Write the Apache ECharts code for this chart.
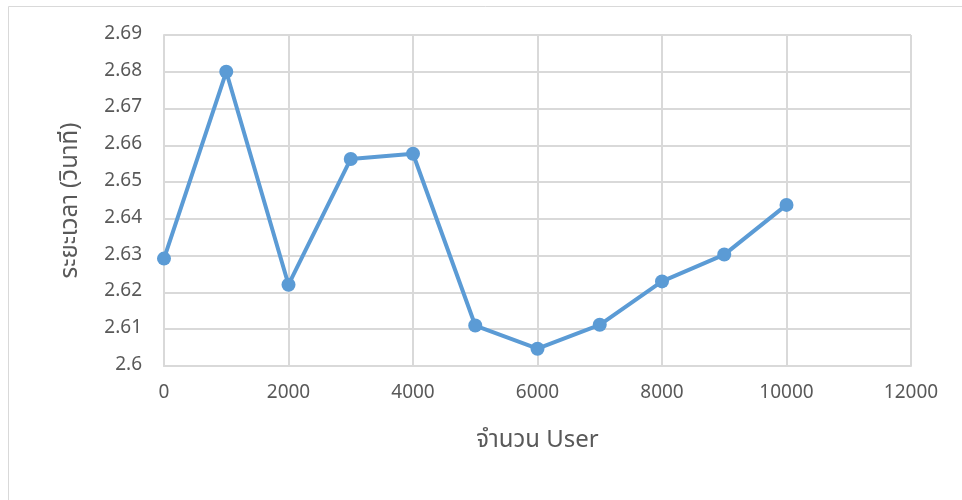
<!DOCTYPE html>
<html>
<head>
<meta charset="utf-8">
<script src="https://cdn.jsdelivr.net/npm/echarts@6/dist/echarts.min.js"></script>
<style>
  html, body { margin: 0; padding: 0; background: #fff; }
  #chart { width: 962px; height: 500px; }
</style>
</head>
<body>
<div id="chart"></div>
<script>
var users = [0, 1000, 2000, 3000, 4000, 5000, 6000, 7000, 8000, 9000, 10000];
var times = [2.6292, 2.6800, 2.6221, 2.6563, 2.6577, 2.6110, 2.6047, 2.6112, 2.6230, 2.6303, 2.6438];
var xTitle = 'จำนวน User';
var yTitle = 'ระยะเวลา (วินาที)';

var fontFam = '"Noto Sans Thai", "Open Sans", "Noto Sans", "DejaVu Sans", sans-serif';
var chart = echarts.init(document.getElementById('chart'));
var option = {
    backgroundColor: '#fff',
    animation: false,
    graphic: [{
        type: 'rect',
        shape: { x: 8.5, y: 6.5, width: 1000, height: 600 },
        style: { fill: 'none', stroke: '#d9d9d9', lineWidth: 1 },
        silent: true
    }],
    grid: { left: 164, right: 51, top: 35, bottom: 134 },
    xAxis: {
        type: 'value',
        min: 0,
        max: 12000,
        interval: 2000,
        name: xTitle,
        nameLocation: 'middle',
        nameGap: 64,
        nameTextStyle: { fontSize: 24, color: '#595959', fontFamily: fontFam },
        axisLine: { show: true, lineStyle: { color: '#d9d9d9', width: 2 } },
        axisTick: { show: false },
        axisLabel: {
            fontSize: 19, color: '#595959', margin: 19, fontFamily: fontFam,
            formatter: function (v) { return String(v); }
        },
        splitLine: { show: true, lineStyle: { color: '#d9d9d9', width: 2 } }
    },
    yAxis: {
        type: 'value',
        min: 2.6,
        max: 2.69,
        interval: 0.01,
        name: yTitle,
        nameLocation: 'middle',
        nameGap: 80,
        nameTextStyle: { fontSize: 24, color: '#595959', fontFamily: fontFam },
        axisLine: { show: true, lineStyle: { color: '#d9d9d9', width: 2 } },
        axisTick: { show: false },
        axisLabel: { fontSize: 19, color: '#595959', margin: 22, fontFamily: fontFam },
        splitLine: { show: true, lineStyle: { color: '#d9d9d9', width: 2 } }
    },
    series: [{
        type: 'line',
        data: users.map(function (u, i) { return [u, times[i]]; }),
        symbol: 'circle',
        symbolSize: 14,
        lineStyle: { color: '#5b9bd5', width: 4 },
        itemStyle: { color: '#5b9bd5' }
    }]
};
chart.setOption(option);
</script>
</body>
</html>
